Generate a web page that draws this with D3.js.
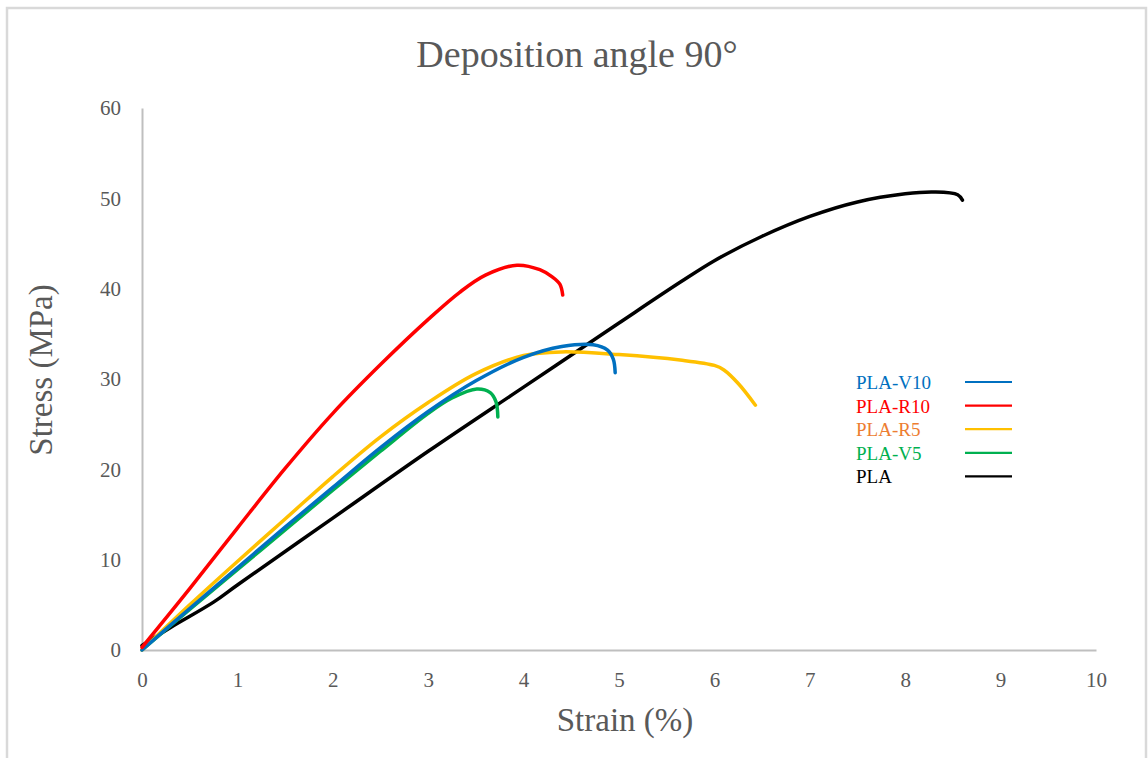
<!DOCTYPE html>
<html>
<head>
<meta charset="utf-8">
<script src="https://cdn.jsdelivr.net/npm/d3@7"></script>
<style>
html,body{margin:0;padding:0;background:#fff;}
svg{display:block;}
</style>
</head>
<body>
<svg id="chart" width="1148" height="758"></svg>
<script>
const title = "Deposition angle 90°";
const xTicks = [0,1,2,3,4,5,6,7,8,9,10];
const yTicks = [0,10,20,30,40,50,60];
const seriesNames = ["PLA-V10","PLA-R10","PLA-R5","PLA-V5","PLA"];
const lineColors = ["#0070C0","#FF0000","#FFC000","#00B050","#000000"];
const labelColors = ["#0070C0","#FF0000","#ED7D31","#00B050","#000000"];

const strainV10 = [0,0.5,1,1.5,2,2.5,3,3.5,4,4.4,4.73,4.88,4.94,4.96];
const stressV10 = [0,4.6,9.1,13.6,18,22.4,26.4,29.8,32.4,33.6,33.8,33.2,32.2,30.7];
const strainR10 = [0,0.5,1,1.5,2,2.5,3,3.33,3.6,3.93,4.17,4.3,4.38,4.41];
const stressR10 = [0.3,6.8,13.5,20.1,26.2,31.6,36.6,39.6,41.5,42.6,42.1,41.3,40.5,39.3];
const strainR5 = [0,0.5,1,1.5,2,2.5,3,3.5,4,4.4,5,5.64,6,6.1,6.25,6.43];
const stressR5 = [0,5,9.8,14.5,19.2,23.6,27.4,30.6,32.6,33,32.7,32.1,31.5,31,29.5,27.1];
const strainV5 = [0,0.5,1,1.5,2,2.5,3,3.25,3.51,3.65,3.71,3.73];
const stressV5 = [0,4.5,8.9,13.3,17.7,22,26.2,27.9,28.9,28.5,27.5,25.8];
const strainPLA = [0,0.3,0.75,1,2,3,4,5,5.64,6,6.5,7,7.5,8,8.3,8.55,8.6];
const stressPLA = [0.5,2.5,5.3,7.2,14.6,22,29.1,36.2,40.7,43.1,45.8,48,49.6,50.5,50.7,50.4,49.8];

const strains = [strainV10,strainR10,strainR5,strainV5,strainPLA];
const stresses = [stressV10,stressR10,stressR5,stressV5,stressPLA];

const FONT = "'Liberation Serif','Times New Roman',serif";
const svg = d3.select("#chart");
const W = 1148, H = 758;
const m = {left:142, right:52, top:108, bottom:108};

// frame
svg.append("path").attr("d",`M7,${H} L7,8 L1146,8 L1146,${H}`)
  .attr("fill","none").attr("stroke","#d9d9d9").attr("stroke-width",2.5);

const x = d3.scaleLinear().domain([0,10]).range([m.left, W-m.right]);
const y = d3.scaleLinear().domain([0,60]).range([H-m.bottom, m.top]);

const xAxis = svg.append("g").attr("transform",`translate(0,${y(0)})`)
  .call(d3.axisBottom(x).tickValues(xTicks).tickSize(0).tickPadding(22).tickFormat(d3.format("d")));
const yAxis = svg.append("g").attr("transform",`translate(${x(0)},0)`)
  .call(d3.axisLeft(y).tickValues(yTicks).tickSize(0).tickPadding(21).tickFormat(d3.format("d")));
[xAxis,yAxis].forEach(g=>{
  g.attr("font-family",FONT);
  g.select(".domain").attr("stroke","#bfbfbf").attr("stroke-width",2);
  g.selectAll("text").attr("fill","#595959").style("font-size","21px")
   .style("font-family",FONT);
});

svg.append("text").attr("x",577).attr("y",67).attr("text-anchor","middle")
  .attr("fill","#595959").style("font-family",FONT).style("font-size","38px").text(title);
svg.append("text").attr("x",625).attr("y",731).attr("text-anchor","middle")
  .attr("fill","#595959").style("font-family",FONT).style("font-size","33px").text("Strain (%)");
svg.append("text").attr("transform","translate(52,370) rotate(-90)").attr("text-anchor","middle")
  .attr("fill","#595959").style("font-family",FONT).style("font-size","33px").text("Stress (MPa)");

const line = d3.line().x(d=>x(d[0])).y(d=>y(d[1])).curve(d3.curveCatmullRom.alpha(0.5));
const order = [4,3,2,0,1];
order.forEach(i=>{
  const pts = strains[i].map((s,j)=>[s,stresses[i][j]]);
  svg.append("path").datum(pts).attr("d",line).attr("fill","none")
    .attr("stroke",lineColors[i]).attr("stroke-width",3.5)
    .attr("stroke-linecap","round").attr("stroke-linejoin","round");
});

// legend
const lg = svg.append("g");
seriesNames.forEach((n,i)=>{
  const yy = 382 + i*23.6;
  lg.append("text").attr("x",856).attr("y",yy+7).attr("fill",labelColors[i])
    .style("font-family",FONT).style("font-size","19px").text(n);
  lg.append("line").attr("x1",965).attr("x2",1012).attr("y1",yy).attr("y2",yy)
    .attr("stroke",lineColors[i]).attr("stroke-width",2.2);
});
</script>
</body>
</html>
